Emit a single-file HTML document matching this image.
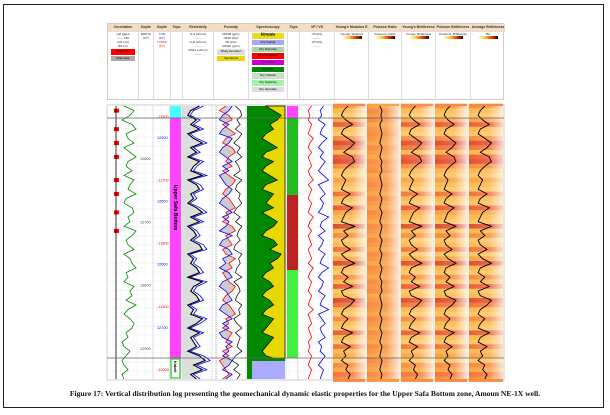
<!DOCTYPE html>
<html><head><meta charset="utf-8">
<style>
body{margin:0;background:#fff;width:610px;height:415px;overflow:hidden;font-family:"Liberation Sans",sans-serif}
#frame{position:absolute;left:3px;top:4px;width:601px;height:404px;border:1.5px solid #222;box-sizing:border-box}
#hdr{position:absolute;left:107px;top:23px;width:397px;height:77px;border:1px solid #ccc;box-sizing:border-box;background:#fff}
.col{position:absolute;top:0;height:75px;border-right:1px solid #ddd;box-sizing:border-box}
.ttl{height:7px;background:#f6dcc0;font-size:3.5px;font-weight:bold;text-align:center;line-height:7px;color:#333;border-bottom:1px solid #ddd}
.lg{font-size:3px;text-align:center;color:#222;line-height:4px}
.sw{margin:1.2px 3px;height:5.5px;font-size:3px;text-align:center;line-height:5.5px;color:#000}
#cap{position:absolute;left:0;width:610px;top:389px;text-align:center;font-family:"Liberation Serif",serif;font-weight:bold;font-size:7.6px;color:#111}
</style></head><body>
<div id="frame"></div>
<div id="hdr">
 <div class="col" style="left:0;width:31px"><div class="ttl">Correlation</div>
  <div class="lg">GR (gapi)<br>—— 150</div><div class="lg">CALI (in)</div><div class="lg">BS (in)</div>
  <div class="sw" style="background:#f00">Wash Out</div><div class="sw" style="background:#aaa">Mud cake</div></div>
 <div class="col" style="left:31px;width:15px"><div class="ttl">Depth</div><div class="lg">DEPTH<br>(FT)</div></div>
 <div class="col" style="left:46px;width:17px"><div class="ttl">Depth</div><div class="lg"><span style="color:#00f">TVD<br>(FT)</span><br><span style="color:#f00">TVDSS<br>(FT)</span></div></div>
 <div class="col" style="left:63px;width:12px"><div class="ttl">Tops</div></div>
 <div class="col" style="left:75px;width:31px"><div class="ttl">Resistivity</div><div class="lg">LLS (ohmm)<br><span style="color:#f00">——</span><br>LLD (ohmm)<br><span style="color:#66f">——</span><br>MSFL (ohmm)<br>——</div></div>
 <div class="col" style="left:106px;width:35px"><div class="ttl">Porosity</div><div class="lg">RHOB (g/cc)<br>NPHI (dec)<br>PE (b/e)<br>DRHO (g/cc)</div>
  <div class="sw" style="background:#ddd">Shaly formation</div><div class="sw" style="background:#e6d800">Sandstone</div></div>
 <div class="col" style="left:141px;width:39px"><div class="ttl">Spectroscopy Minerals</div>
  <div class="sw" style="background:#e8dc20">Dry Quartz</div><div class="sw" style="background:#a8a8f0">Dry Calcite</div><div class="sw" style="background:#a8d4a8">Dry Dolomite</div><div class="sw" style="background:#f00">Dry K-Feldspar</div><div class="sw" style="background:#d000d0">Dry Pyrite</div><div class="sw" style="background:#080">Dry Illite</div><div class="sw" style="background:#c8e0c8">Dry Chlorite</div><div class="sw" style="background:#a8f0a8">Dry Kaolinite</div><div class="sw" style="background:#ddd">Dry Hematite</div></div>
 <div class="col" style="left:180px;width:12px"><div class="ttl">Tops</div></div>
 <div class="col" style="left:192px;width:35px"><div class="ttl">VP / VS</div><div class="lg">VS (ft/s)<br><span style="color:#f00">——</span><br>VP (ft/s)<br><span style="color:#66f">——</span></div></div>
 <div class="col" style="left:227px;width:34px"><div class="ttl">Young's Modulus E</div><div class="lg">Youngs_Modulus<br><span style="background:linear-gradient(90deg,#ffe,#fc4,#e40,#300);display:inline-block;width:20px;height:3px"></span></div></div>
 <div class="col" style="left:261px;width:33px"><div class="ttl">Poisson Ratio</div><div class="lg">Poissons_Ratio<br><span style="background:linear-gradient(90deg,#ffe,#fc4,#e40,#300);display:inline-block;width:20px;height:3px"></span></div></div>
 <div class="col" style="left:294px;width:34px"><div class="ttl">Young's Brittleness</div><div class="lg">Youngs_Brittleness<br><span style="background:linear-gradient(90deg,#ffe,#fc4,#e40,#300);display:inline-block;width:20px;height:3px"></span></div></div>
 <div class="col" style="left:328px;width:35px"><div class="ttl">Poisson Brittleness</div><div class="lg">Poissons_Brittleness<br><span style="background:linear-gradient(90deg,#ffe,#fc4,#e40,#300);display:inline-block;width:20px;height:3px"></span></div></div>
 <div class="col" style="left:363px;width:34px;border-right:none"><div class="ttl">Average Brittleness</div><div class="lg">BA<br><span style="background:linear-gradient(90deg,#ffe,#fc4,#e40,#300);display:inline-block;width:20px;height:3px"></span></div></div>
</div>
<svg id="log" width="610" height="415" style="position:absolute;left:0;top:0"></svg>
<div id="cap">Figure 17: Vertical distribution log presenting the geomechanical dynamic elastic properties for the Upper Safa Bottom zone, Amoun NE-1X well.</div>
<script>
const gr=[.3,.8,.6,.2,.7,.9,.4,.5,.8,.3,.6,.9,.5,.4,.7,.3,.8,.6,.5,.9,.4,.3,.7,.8,.5,.6,.3,.9,.7,.4,.5,.8,.3,.6,.7,.9,.4,.5,.3,.8,.6,.7,.4,.9,.5,.3,.6,.8,.7,.4,.5,.2,.3,.6,.4,.2,.3,.5,.2,.3];
const res=[.6,.3,.2,.5,.3,.6,.2,.4,.7,.3,.5,.2,.6,.4,.3,.7,.2,.5,.6,.3,.4,.2,.5,.7,.3,.6,.2,.4,.5,.3,.6,.7,.2,.4,.3,.5,.6,.2,.7,.4,.3,.5,.6,.2,.4,.3,.7,.5,.2,.6,.3,.4,.5,.2,.6,.8,.4,.7,.3,.5];
const nphi=[.4,.2,.5,.6,.3,.5,.7,.4,.3,.6,.7,.5,.4,.6,.3,.5,.7,.6,.4,.3,.5,.6,.7,.4,.5,.3,.6,.7,.4,.5,.6,.3,.4,.7,.5,.6,.3,.4,.5,.7,.6,.4,.3,.5,.6,.7,.4,.5,.3,.6,.5,.4,.6,.3,.5,.2,.3,.4,.5,.3];
const rhob=[.6,.5,.3,.2,.5,.3,.2,.6,.5,.3,.2,.4,.6,.3,.5,.2,.3,.4,.6,.5,.3,.2,.4,.6,.3,.5,.4,.2,.6,.3,.2,.5,.6,.3,.4,.2,.5,.6,.3,.2,.4,.5,.6,.3,.2,.4,.6,.3,.5,.2,.3,.6,.4,.5,.3,.6,.5,.3,.6,.4];
const quartz=[.5,.3,.1,.2,.4,.3,.5,.6,.4,.2,.5,.6,.3,.5,.6,.4,.2,.5,.6,.3,.4,.5,.3,.6,.4,.2,.3,.5,.6,.3,.2,.4,.1,.2,.4,.3,.5,.6,.4,.3,.5,.6,.4,.3,.5,.6,.3,.4,.5,.6,.3,.4,.5,.6,.5,.1,.1,.2,.1,.1];
const vs=[.4,.3,.35,.3,.4,.35,.3,.45,.35,.3,.4,.3,.35,.4,.3,.35,.45,.3,.4,.35,.3,.4,.35,.3,.45,.35,.3,.4,.3,.35,.4,.3,.35,.4,.3,.45,.35,.3,.4,.35,.3,.4,.35,.3,.45,.3,.35,.4,.3,.35,.4,.3,.35,.3,.4,.35,.3,.4,.35,.3];
const vp=[.75,.65,.7,.6,.8,.7,.65,.85,.7,.6,.75,.65,.8,.7,.6,.75,.9,.6,.7,.8,.65,.75,.7,.6,.9,.7,.65,.8,.6,.75,.7,.6,.8,.7,.65,.9,.7,.6,.75,.7,.6,.8,.7,.65,.9,.6,.7,.8,.65,.7,.8,.6,.7,.65,.8,.7,.6,.75,.7,.65];
const ym=[.5,.3,.2,.4,.7,.3,.2,.5,.8,.6,.3,.7,.8,.5,.3,.2,.4,.3,.2,.6,.3,.2,.7,.4,.3,.2,.8,.3,.5,.2,.3,.6,.2,.4,.8,.3,.2,.5,.3,.7,.2,.3,.8,.6,.3,.2,.5,.3,.2,.7,.3,.2,.6,.3,.4,.2,.5,.4,.6,.5];
const pr=[.4,.5,.45,.5,.4,.45,.5,.45,.4,.5,.45,.4,.5,.45,.5,.4,.45,.5,.45,.4,.5,.45,.4,.5,.45,.4,.5,.45,.4,.5,.45,.4,.5,.45,.4,.5,.45,.4,.5,.45,.5,.4,.45,.5,.45,.4,.5,.45,.4,.5,.45,.4,.5,.45,.4,.5,.45,.4,.5,.45];
const depthLabels=[["-11500","#f00",0],["12400","#00f",1],["12600","#444",2],["-11700","#f00",3],["12500","#00f",4],["12700","#444",5],["-11800","#f00",6],["12600","#00f",7],["12800","#444",8],["-11900","#f00",9],["12700","#00f",10],["12900","#444",11],["-12000","#f00",12]];
const N=gr.length, Y0=106, Y1=379;
const ys=i=>Y0+(Y1-Y0)*i/(N-1);
const svg=document.getElementById('log');
const NS='http://www.w3.org/2000/svg';
function mk(t,a,p){const e=document.createElementNS(NS,t);for(const k in a)e.setAttribute(k,a[k]);(p||svg).appendChild(e);return e;}
const defs=mk('defs',{});
const lg=mk('linearGradient',{id:'fade',x1:0,x2:1,y1:0,y2:0},defs);
mk('stop',{offset:0,'stop-color':'#fff','stop-opacity':0},lg);mk('stop',{offset:.6,'stop-color':'#fff','stop-opacity':.15},lg);mk('stop',{offset:1,'stop-color':'#fff','stop-opacity':.75},lg);
let bg=mk('rect',{x:107,y:105,width:397,height:275,fill:'#fff',stroke:'#ccc'});

for(let x=113;x<504;x+=8){mk('line',{x1:x,x2:x,y1:105,y2:380,stroke:'#eee','stroke-width':.5});}
for(let y=110;y<380;y+=9){mk('line',{x1:107,x2:504,y1:y,y2:y,stroke:'#eee','stroke-width':.5});}
const trackX=[107,153,170,181,212,246,286,298,332,366,400,434,468,504];
trackX.forEach(x=>mk('line',{x1:x,x2:x,y1:105,y2:380,stroke:'#ccc','stroke-width':.6}));
function pts(arr,x0,w){return arr.map((v,i)=>(x0+v*w).toFixed(1)+','+ys(i).toFixed(1)).join(' ');}
function poly(arr,x0,w,color,sw,name){
 const e=mk('polyline',{points:pts(arr,x0,w),fill:'none',stroke:color,'stroke-width':sw||0.8});return e;}
gr.forEach((v,i)=>{if(i<30&&v>.75){const r=mk('rect',{x:114,y:ys(i)-2,width:5,height:4,fill:'#f00'});}});
mk('line',{x1:116,x2:116,y1:106,y2:379,stroke:'#000','stroke-width':.8});
poly(gr,118,20,'#080',.8,'gr-curve');
depthLabels.forEach(d=>{const y=ys(0)+ (d[2]/12)*(Y1-Y0-20)+12; const x=d[1]=='#444'?140:157;
 const t=mk('text',{x:x,y:y,'font-size':3.8,fill:d[1]});t.textContent=d[0];});
let r=mk('rect',{x:170,y:106,width:11,height:12,fill:'#4ff'});
r=mk('rect',{x:170,y:118,width:11,height:240,fill:'#f4f'});
let t=mk('text',{x:0,y:0,'font-size':5,'font-weight':'bold',transform:'translate(174,185) rotate(90)'});t.textContent='Upper Safa Bottom';
r=mk('rect',{x:171,y:359,width:9,height:19,fill:'#fff',stroke:'#2c2','stroke-width':1.2});
t=mk('text',{x:0,y:0,'font-size':4,'font-weight':'bold',transform:'translate(174,361) rotate(90)'});t.textContent='Kabrit';
// resistivity 181-212
let g=mk('polygon',{points:'182,106 '+pts(res,182,29)+' 182,379',fill:'#ddd'});
poly(res.map(v=>Math.min(1,v*1.15+.05)),182,29,'#00f',.8,'lld-curve');
poly(res,182,29,'#000',1.1,'lls-curve');
// porosity 212-246
const pp=pts(nphi,213,32)+' '+rhob.slice().reverse().map((v,i)=>(213+v*32)+','+ys(N-1-i)).join(' ');
g=mk('polygon',{points:pp,fill:'#ccc'});
mk('line',{x1:216,x2:216,y1:106,y2:379,stroke:'#555','stroke-width':.5,'stroke-dasharray':'1,1'});
poly(nphi,213,32,'#f00',.8,'nphi-curve');poly(rhob,213,32,'#00f',.8,'rhob-curve');
poly(res.map(v=>1-v*.5),213,32,'#000',.7,'pe-curve');
// minerals
g=mk('rect',{x:247,y:106,width:38,height:252,fill:'#080'});
const qp=quartz.map((v,i)=>(285-v*38)+','+ys(i)).join(' ');
g=mk('polygon',{points:'285,106 '+qp+' 285,358',fill:'#e6d800',stroke:'#000','stroke-width':.7});
g=mk('rect',{x:247,y:358,width:38,height:21,fill:'#080'});
g=mk('rect',{x:252,y:361,width:33,height:18,fill:'#aaf'});
[[106,118,'#f4f'],[118,195,'#2b2'],[195,270,'#b22'],[270,358,'#4e4']].forEach((s,k)=>{const e=mk('rect',{x:287,y:s[0],width:11,height:s[1]-s[0],fill:s[2]});});
poly(vs,298,34,'#f00',.8,'vs-curve');poly(vp,298,34,'#00f',.8,'vp-curve');
function col(v){const c=[[255,225,150],[253,180,70],[240,95,55],[190,45,35]];const f=Math.min(.999,Math.max(0,v))*3,k=Math.floor(f),u=f-k;return 'rgb('+c[k].map((a,j)=>Math.round(a+(c[k+1][j]-a)*u)).join(',')+')';}
function heat(arr,x0,w,name){const h=(Y1-Y0)/(N-1);arr.forEach((v,i)=>{const e=mk('rect',{x:x0,y:ys(i)-h/2,width:w,height:h+.6,fill:col(v)});});
 mk('rect',{x:x0,y:Y0,width:w,height:Y1-Y0,fill:'url(#fade)'});poly(arr,x0+4,w-10,'#000',.9,name+'-curve');}
heat(ym,333,32,'youngs-modulus');
heat(pr,367,32,'poisson-ratio');
heat(ym.map(v=>v*.95),401,32,'youngs-brittleness');
heat(ym.map(v=>v*.9+.05),435,32,'poisson-brittleness');
heat(ym.map(v=>v*.92+.03),469,34,'average-brittleness');
mk('line',{x1:107,x2:504,y1:118,y2:118,stroke:'#666','stroke-width':.8});
mk('line',{x1:107,x2:504,y1:358,y2:358,stroke:'#666','stroke-width':.8});
</script>
</body></html>
